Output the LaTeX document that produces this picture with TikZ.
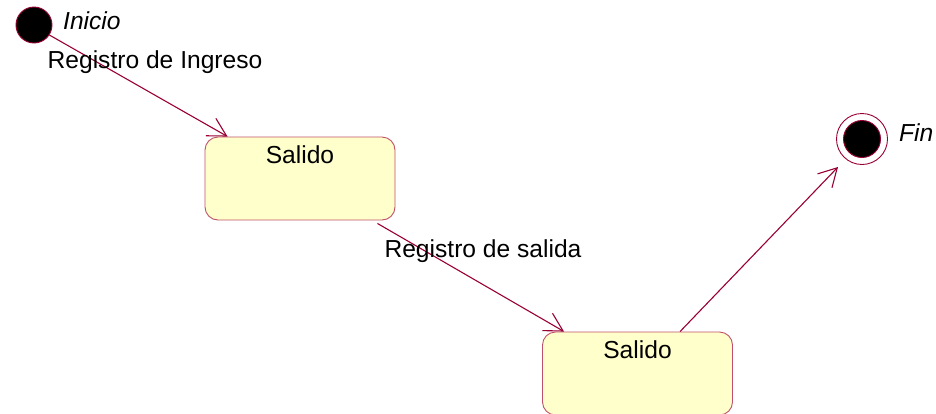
\documentclass[tikz,border=0pt]{standalone}
\usepackage{fontspec}
\setmainfont{Liberation Sans}
\usetikzlibrary{arrows.meta,calc}
\definecolor{umlline}{HTML}{990033}
\definecolor{umlbox}{HTML}{C0506A}
\definecolor{umlfill}{HTML}{FFFFCC}
\begin{document}
\begin{tikzpicture}[x=1pt,y=-1pt,
  every node/.style={font=\fontsize{24.6}{28}\selectfont},
  statebox/.style={draw=umlbox, fill=umlfill, line width=0.9pt, rounded corners=13pt, minimum width=190pt, minimum height=83pt, inner sep=0pt},
  statetext/.style={anchor=north, inner sep=0pt, text=black},
  trans/.style={draw=umlline, line width=1.1pt, -{Straight Barb[length=18pt,width=20pt,line width=1.1pt]}},
  lbl/.style={inner sep=0pt, text=black}]
\useasboundingbox (0,0) rectangle (936,413);
\begin{scope}
\clip (0,0) rectangle (936,413);
\node[circle, draw=umlline, fill=black, minimum size=36pt, inner sep=0pt, line width=0.9pt] (init) at (34,25) {};
\node[lbl, anchor=west, font=\fontsize{24.6}{28}\selectfont\itshape] (initl) at (63,21) {Inicio};
\node[statebox] (s1) at (300,178.5) {};
\node[statetext] (s1t) at ([yshift=-9pt]s1.north) {Salido};
\node[statebox] (s2) at (637.5,373.5) {};
\node[statetext] (s2t) at ([yshift=-9pt]s2.north) {Salido};
\node[circle, draw=umlline, fill=white, minimum size=51pt, inner sep=0pt, line width=0.9pt] (fin) at (862,139) {};
\node[circle, draw=umlline, fill=black, minimum size=37pt, inner sep=0pt, line width=0.9pt] (fini) at (fin.center) {};
\node[lbl, anchor=west, font=\fontsize{24.6}{28}\selectfont\itshape] (finl) at (899,133) {Fin};
\coordinate (fintip) at ($(fin.center)+(-24,28)$);
\draw[trans] (init.-33) -- ([xshift=23pt]s1.north west);
\draw[trans] ([xshift=-18pt,yshift=-3pt]s1.south east) -- ([xshift=22pt]s2.north west);
\draw[trans] ([xshift=138pt]s2.north west) -- (fintip);
\node[lbl] (l1) at (155,62) {Registro de Ingreso};
\node[lbl] (l2) at (483,251) {Registro de salida};
\end{scope}
\end{tikzpicture}
\end{document}
